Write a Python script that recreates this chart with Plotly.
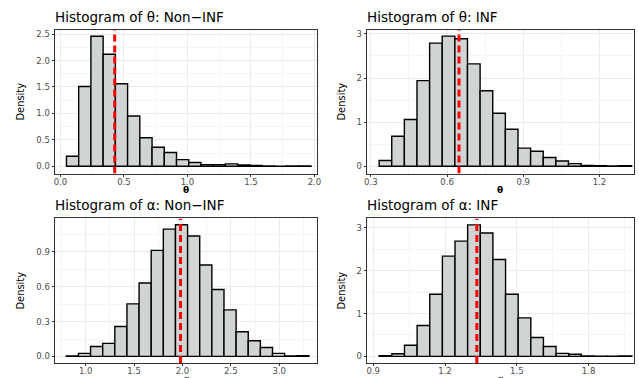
import plotly.graph_objects as go

# ---- data ----
theta_non_start, theta_non_width = 0.047, 0.0963
theta_non_density = [0.19, 1.51, 2.46, 2.12, 1.56, 0.95, 0.54, 0.36, 0.26, 0.125,
                     0.07, 0.03, 0.03, 0.045, 0.025, 0.015, 0.005, 0.003, 0.005, 0.005]
theta_non_mean = 0.427

theta_inf_start, theta_inf_width = 0.3325, 0.0497
theta_inf_density = [0.13, 0.68, 1.06, 1.94, 2.79, 2.95, 2.89, 2.32, 1.71, 1.20,
                     0.84, 0.41, 0.34, 0.20, 0.12, 0.06, 0.02, 0.015, 0.005, 0.01]
theta_inf_mean = 0.647

alpha_non_start, alpha_non_width = 0.80, 0.1253
alpha_non_density = [0.003, 0.026, 0.086, 0.112, 0.258, 0.453, 0.633, 0.914, 1.097, 1.135,
                     1.037, 0.788, 0.576, 0.401, 0.212, 0.135, 0.077, 0.026, 0.005, 0.006]
alpha_non_mean = 1.98

alpha_inf_start, alpha_inf_width = 0.925, 0.0528
alpha_inf_density = [0.015, 0.06, 0.26, 0.72, 1.45, 2.34, 2.69, 3.07, 2.88, 2.26,
                     1.45, 0.90, 0.44, 0.23, 0.07, 0.05, 0.01, 0.005, 0.003, 0.008]
alpha_inf_mean = 1.333

titles = ["Histogram of θ: Non\u2212INF", "Histogram of θ: INF",
          "Histogram of α: Non\u2212INF", "Histogram of α: INF"]
xlabels = ["<b>θ</b>", "<b>θ</b>", "<i>α</i>", "<i>α</i>"]

panels = [
    dict(start=theta_non_start, width=theta_non_width, dens=theta_non_density, mean=theta_non_mean,
         xr=[-0.047, 2.02], yr=[-0.138, 2.58], xt=[0.0, 0.5, 1.0, 1.5, 2.0], xfmt="%.1f", xminor=0.25,
         yt=[0.0, 0.5, 1.0, 1.5, 2.0, 2.5], yfmt="%.1f", yminor=0.25),
    dict(start=theta_inf_start, width=theta_inf_width, dens=theta_inf_density, mean=theta_inf_mean,
         xr=[0.283, 1.336], yr=[-0.165, 3.09], xt=[0.3, 0.6, 0.9, 1.2], xfmt="%.1f", xminor=0.15,
         yt=[0, 1, 2, 3], yfmt="%d", yminor=0.5),
    dict(start=alpha_non_start, width=alpha_non_width, dens=alpha_non_density, mean=alpha_non_mean,
         xr=[0.678, 3.39], yr=[-0.057, 1.189], xt=[1.0, 1.5, 2.0, 2.5, 3.0], xfmt="%.1f", xminor=0.25,
         yt=[0.0, 0.3, 0.6, 0.9], yfmt="%.1f", yminor=0.15),
    dict(start=alpha_inf_start, width=alpha_inf_width, dens=alpha_inf_density, mean=alpha_inf_mean,
         xr=[0.872, 1.99], yr=[-0.155, 3.22], xt=[0.9, 1.2, 1.5, 1.8], xfmt="%.1f", xminor=0.15,
         yt=[0, 1, 2, 3], yfmt="%d", yminor=0.5),
]

W, H = 639, 378
px_boxes = [  # (left, right, top, bottom) in pixels
    (53, 318, 29, 173),
    (368, 638, 29, 173),
    (53, 318, 218, 363),
    (368, 638, 218, 363),
]

WIDE = "DejaVu Sans, Verdana, sans-serif"
NARROW = "Liberation Sans Narrow, DejaVu Sans Condensed, sans-serif"

fig = go.Figure()
layout = dict(width=W, height=H, margin=dict(l=0, r=0, t=0, b=0),
              paper_bgcolor="white", plot_bgcolor="white", showlegend=False,
              font=dict(family=WIDE))
annotations = []

for i, (p, box) in enumerate(zip(panels, px_boxes)):
    n = i + 1
    xa = "x" if n == 1 else f"x{n}"
    ya = "y" if n == 1 else f"y{n}"
    l, r, t, b = box
    dom_x = [l / W, r / W]
    dom_y = [1 - b / H, 1 - t / H]
    centers = [p["start"] + p["width"] * (k + 0.5) for k in range(len(p["dens"]))]
    fig.add_trace(go.Bar(x=centers, y=p["dens"], width=p["width"],
                         marker=dict(color="#d1d4d5", line=dict(color="black", width=1.4)),
                         xaxis=xa, yaxis=ya, hoverinfo="skip"))
    fig.add_trace(go.Scatter(x=[p["mean"], p["mean"]], y=p["yr"], mode="lines",
                             line=dict(color="#ff0000", width=3, dash="7px,4px"),
                             xaxis=xa, yaxis=ya, hoverinfo="skip"))
    axkey_x = "xaxis" if n == 1 else f"xaxis{n}"
    axkey_y = "yaxis" if n == 1 else f"yaxis{n}"
    common = dict(showgrid=True, gridcolor="#ebebeb", gridwidth=1,
                  ticks="outside", ticklen=2, tickcolor="#333333", tickwidth=1,
                  tickfont=dict(size=8.5, color="#4d4d4d", family=WIDE),
                  showline=True, linecolor="#333333", linewidth=1, mirror=True,
                  zeroline=False, fixedrange=True)
    layout[axkey_x] = dict(domain=dom_x, anchor=ya, range=p["xr"],
                           tickvals=p["xt"], ticktext=[p["xfmt"] % v for v in p["xt"]],
                           minor=dict(showgrid=True, gridcolor="#f5f5f5", dtick=p["xminor"],
                                      tick0=p["xt"][0], gridwidth=0.6),
                           ticklabelstandoff=-2,
                           **common)
    layout[axkey_y] = dict(domain=dom_y, anchor=xa, range=p["yr"],
                           tickvals=p["yt"], ticktext=[p["yfmt"] % v for v in p["yt"]],
                           minor=dict(showgrid=True, gridcolor="#f5f5f5", dtick=p["yminor"],
                                      tick0=p["yt"][0], gridwidth=0.6),
                           **common)
    # panel title
    annotations.append(dict(text=titles[i], x=(l - 2) / W, y=1 - (t - 13) / H,
                            xref="paper", yref="paper", xanchor="left", yanchor="middle",
                            showarrow=False, font=dict(size=13.5, color="black", family=WIDE)))
    # x label
    annotations.append(dict(text=xlabels[i], x=(l + r) / 2 / W, y=1 - (b + 16) / H,
                            xref="paper", yref="paper", xanchor="center", yanchor="middle",
                            showarrow=False, font=dict(size=9, color="black", family=WIDE)))
    # y label
    annotations.append(dict(text="Density", x=(l - 34 if i % 2 == 0 else l - 25) / W,
                            y=1 - (t + b) / 2 / H, xref="paper", yref="paper",
                            xanchor="center", yanchor="middle", textangle=-90, showarrow=False,
                            font=dict(size=11, color="black", family=NARROW)))

layout["annotations"] = annotations
fig.update_layout(**layout)
fig.write_html("out.html", config={"displayModeBar": False},
               post_script="document.body.style.margin='0';document.body.style.overflow='hidden';")
